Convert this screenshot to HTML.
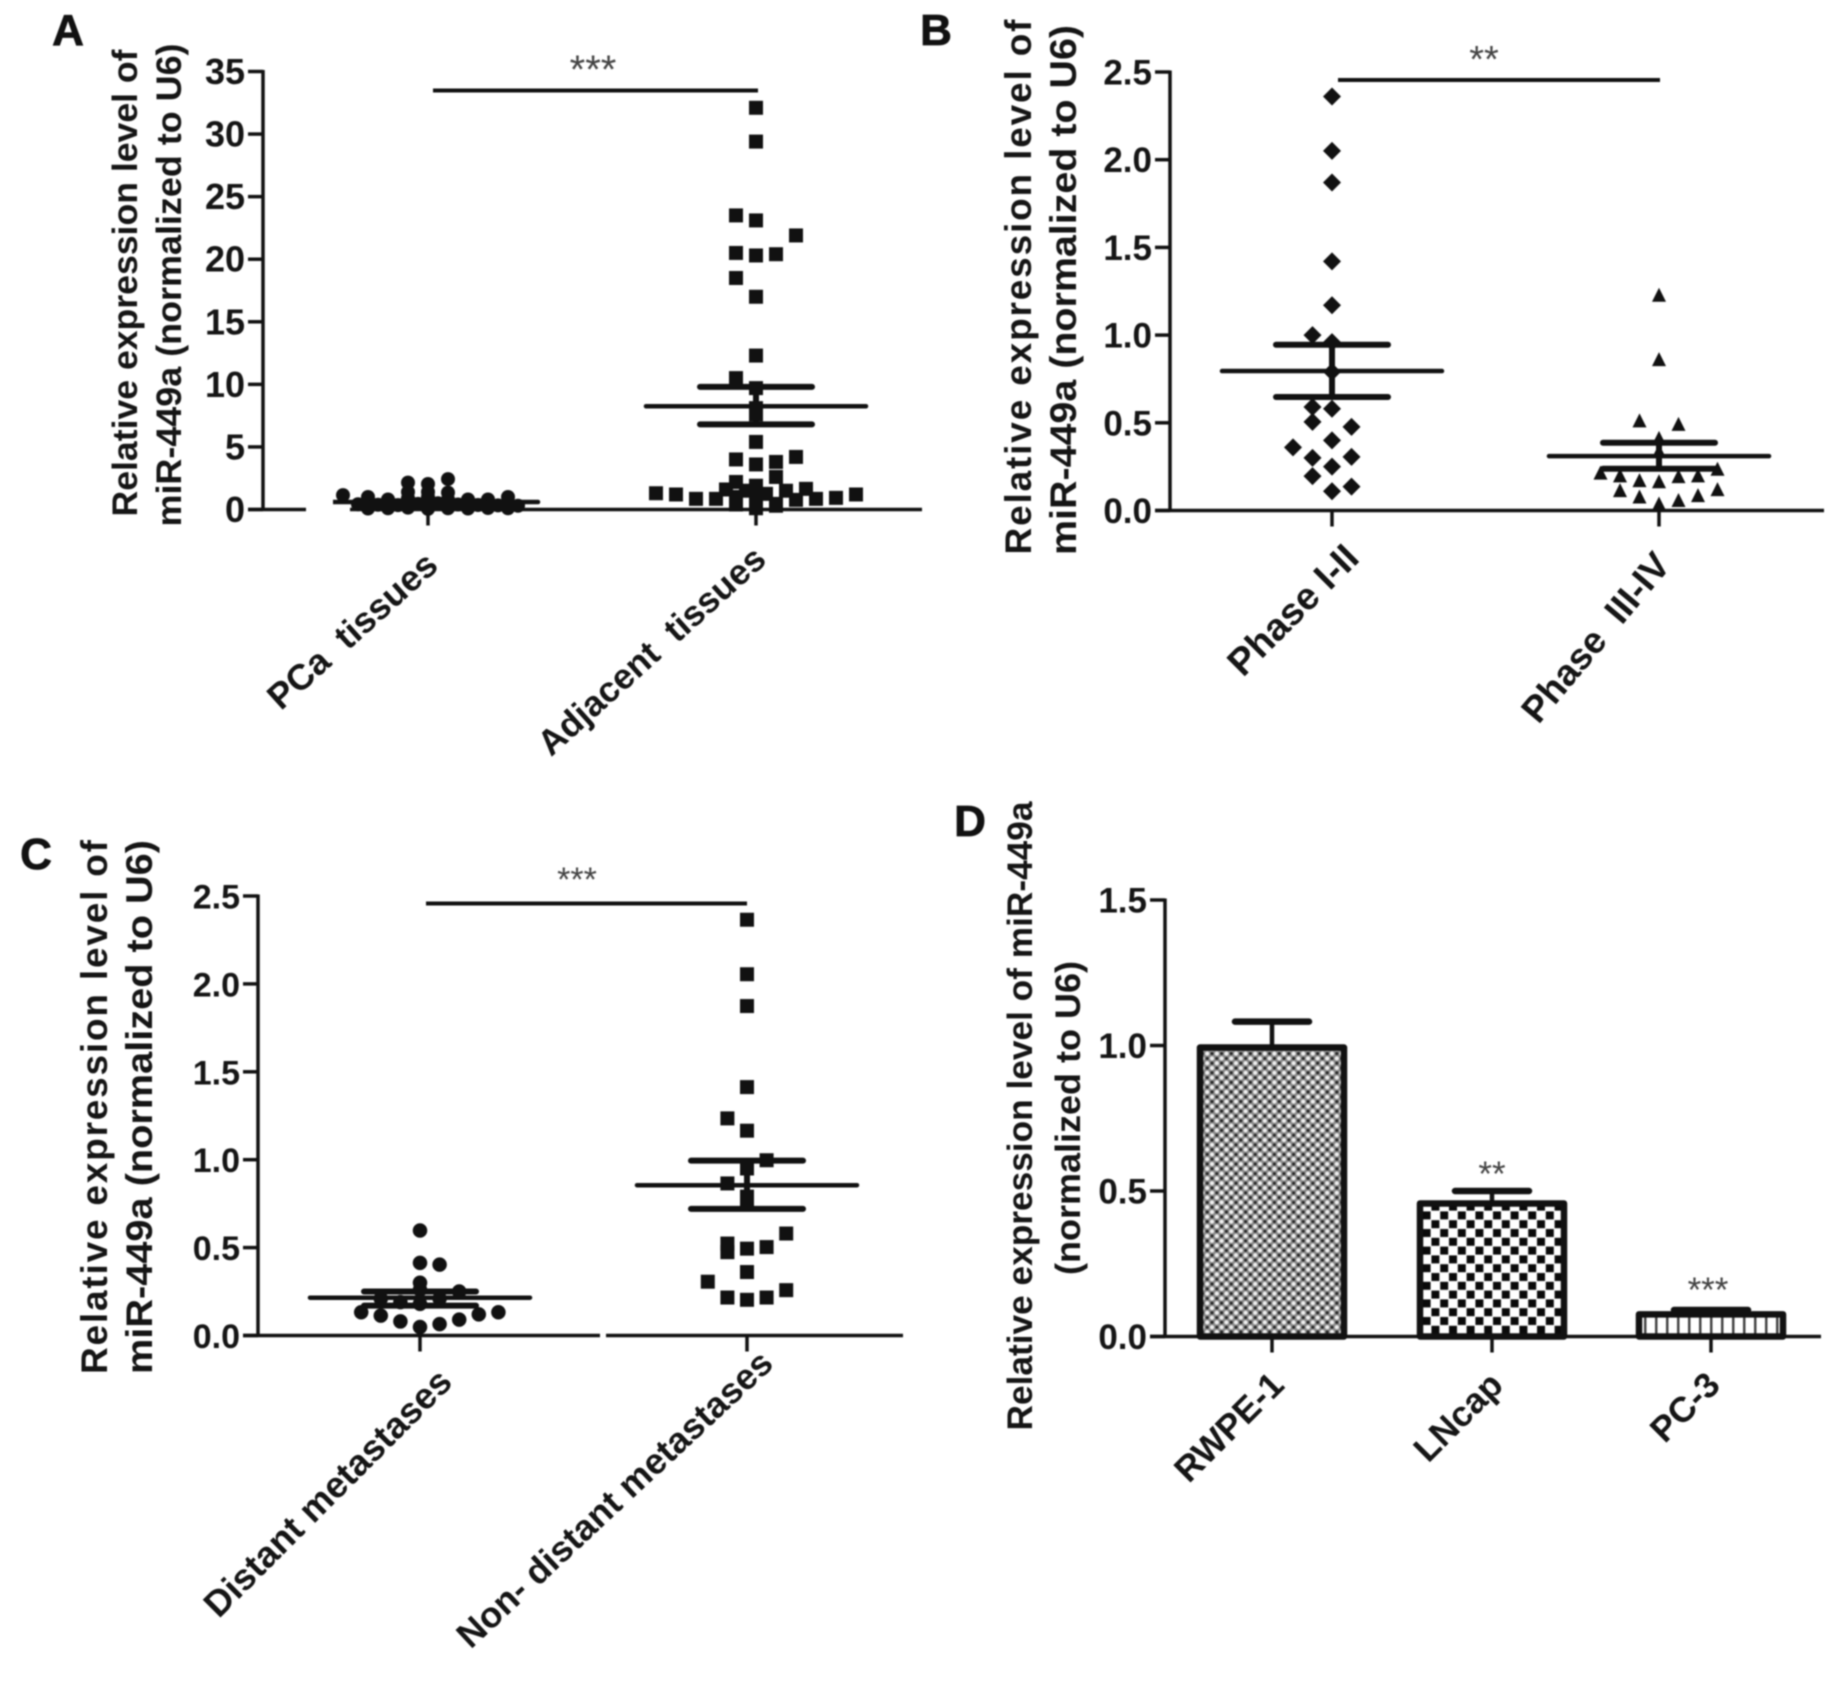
<!DOCTYPE html>
<html lang="en">
<head>
<meta charset="utf-8">
<title>Relative expression level of miR-449a</title>
<style>
html,body{margin:0;padding:0;background:#fff;width:1837px;height:1687px;overflow:hidden}
svg{display:block;filter:blur(0.7px)}
text{font-family:"Liberation Sans",sans-serif;fill:#151515;white-space:pre}
.tt{font-weight:700}
.star{font-weight:400;fill:#444}
.pl{font-weight:700;font-size:44px;fill:#111;text-anchor:middle;stroke:#111;stroke-width:0.8px}
</style>
</head>
<body>
<svg id="fig" xmlns="http://www.w3.org/2000/svg" width="1837" height="1687" viewBox="0 0 1837 1687">
<defs>
<pattern id="pat-fine" patternUnits="userSpaceOnUse" width="9.6" height="9.6">
<rect width="9.6" height="9.6" fill="#8a8a8a"/>
<circle cx="2.4" cy="2.4" r="2.1" fill="#f0f0f0"/><circle cx="7.2" cy="7.2" r="2.1" fill="#f0f0f0"/>
<circle cx="7.2" cy="2.4" r="1.5" fill="#222"/><circle cx="2.4" cy="7.2" r="1.5" fill="#222"/>
</pattern>
<pattern id="pat-check" patternUnits="userSpaceOnUse" width="17.6" height="17.6" x="1431" y="1211">
<rect width="17.6" height="17.6" fill="#fff"/>
<rect x="0.4" y="9.2" width="8" height="8" fill="#0a0a0a"/><rect x="9.2" y="0.4" width="8" height="8" fill="#0a0a0a"/>
</pattern>
<pattern id="pat-stripe" patternUnits="userSpaceOnUse" width="11" height="11" x="1640" y="0">
<rect width="11" height="11" fill="#fff"/><rect x="4" width="2.5" height="11" fill="#444"/>
</pattern>
</defs>

<g id="panel-a">
<text class="pl" x="68" y="45">A</text>
<text class="tt" font-size="35" text-anchor="middle" transform="translate(137,283) rotate(-90)" textLength="467" lengthAdjust="spacingAndGlyphs">Relative expression level of</text>
<text class="tt" font-size="35" text-anchor="middle" transform="translate(181,285) rotate(-90)" textLength="483" lengthAdjust="spacingAndGlyphs">miR-449a (normalized to U6)</text>
<line x1="433" y1="90.5" x2="758" y2="90.5" stroke="#111" stroke-width="4"/>
<text class="star" font-size="40" text-anchor="middle" x="593" y="83">***</text>
</g>

<g id="panel-b">
<text class="pl" x="936" y="45">B</text>
<text class="tt" font-size="37" text-anchor="middle" transform="translate(1031,287) rotate(-90)" textLength="535" lengthAdjust="spacing">Relative expression level of</text>
<text class="tt" font-size="37" text-anchor="middle" transform="translate(1076,290) rotate(-90)" textLength="530" lengthAdjust="spacingAndGlyphs">miR-449a (normalized to U6)</text>
<line x1="1338" y1="80" x2="1660" y2="80" stroke="#111" stroke-width="4"/>
<text class="star" font-size="38" text-anchor="middle" x="1484" y="72">**</text>
</g>

<g id="panel-c">
<text class="pl" x="36" y="869">C</text>
<text class="tt" font-size="37" text-anchor="middle" transform="translate(107,1107) rotate(-90)" textLength="534" lengthAdjust="spacing">Relative expression level of</text>
<text class="tt" font-size="37" text-anchor="middle" transform="translate(152,1107) rotate(-90)" textLength="534" lengthAdjust="spacingAndGlyphs">miR-449a (normalized to U6)</text>
<line x1="426" y1="903.5" x2="747" y2="903.5" stroke="#111" stroke-width="4"/>
<text class="star" font-size="34" text-anchor="middle" x="577" y="891">***</text>
</g>

<g id="panel-d">
<text class="pl" x="970" y="836">D</text>
<text class="tt" font-size="35" text-anchor="middle" transform="translate(1032,1116) rotate(-90)" textLength="629" lengthAdjust="spacingAndGlyphs">Relative expression level of miR-449a</text>
<text class="tt" font-size="35" text-anchor="middle" transform="translate(1080,1118) rotate(-90)" textLength="314" lengthAdjust="spacingAndGlyphs">(normalized to U6)</text>
<text class="star" font-size="35" text-anchor="middle" x="1492" y="1186">**</text>
<text class="star" font-size="35" text-anchor="middle" x="1708" y="1302">***</text>
</g>
</svg>

<script>
/* ---------- Panel A data ---------- */
const aTickLabels = ['0','5','10','15','20','25','30','35'];
const aCategories = ['PCa  tissues','Adjacent  tissues'];
const aPcaValues = [2.43,2.15,2.04,1.4,1.4,1.35,1.15,1.0,0.8,0.8,0.8,1.0,0.42,0.38,0.35,0.45,0.5,0.4,0.36,0.33,0.3,0.08,0.1,0.15,0.05,0.1,0.08,0.12,0.1,0.7,1.0,0.9,0.8];
const aPcaSlots  = [2,-2,0,-2,0,2,-8.5,-6,-4,4,6,8,-7,-5,-3,-1,1,3,5,7,9,-6,-4,-2,0,2,4,6,8,0,0,-2,2];
const aAdjValues = [32.1,29.4,23.5,23.1,21.9,20.5,20.3,20.4,18.5,17.0,12.3,10.5,9.7,8.1,7.6,5.4,4.0,3.6,3.8,4.2,2.6,2.2,1.9,1.6,1.5,1.65,1.25,1.5,1.3,1.2,0.85,0.85,0.85,0.93,1.2,0.77,0.6,0.45,0.2,0.8,1.0,0.4,0.3,0.1];
const aAdjSlots  = [0,0,-2,0,4,-2,0,2,-2,0,0,-2,0,0,0,0,-2,0,2,4,2,-2,0,-3,3,5,1,-1,-10,-8,-6,-4,6,8,10,4,-2,2,0,0,-2,-2,2,0];
const aMeans = [0.6,8.25];
const aSemHigh = [0.65,9.8];
const aSemLow = [0.55,6.8];

/* ---------- Panel B data ---------- */
const bTickLabels = ['0.0','0.5','1.0','1.5','2.0','2.5'];
const bCategories = ['Phase I-II','Phase  III-IV'];
const bEarlyValues = [2.36,2.05,1.87,1.42,1.17,1.0,0.96,0.79,0.59,0.58,0.505,0.477,0.40,0.36,0.30,0.306,0.25,0.196,0.136,0.11];
const bEarlySlots  = [0,0,0,0,0,-1,0,0,-1,0,-1,1,0,-2,-1,1,0,-1,1,0];
const bLateValues = [1.23,0.863,0.514,0.494,0.414,0.34,0.216,0.2,0.173,0.167,0.196,0.2,0.238,0.116,0.08,0.04,0.06,0.088,0.122];
const bLateSlots  = [0,0,-1,1,0,0,-3,-2,-1,0,1,2,3,-2,-1,0,1,2,3];
const bMeans = [0.795,0.31];
const bSemHigh = [0.945,0.386];
const bSemLow = [0.647,0.238];

/* ---------- Panel C data ---------- */
const cTickLabels = ['0.0','0.5','1.0','1.5','2.0','2.5'];
const cCategories = ['Distant metastases','Non- distant metastases'];
const cDistantValues = [0.597,0.413,0.403,0.3,0.25,0.26,0.21,0.19,0.21,0.18,0.132,0.113,0.08,0.048,0.065,0.09,0.12,0.132];
const cDistantSlots  = [0,0,1,0,2,0,-2,-1,1,0,-3,-2,-1,0,1,2,3,4];
const cOtherValues = [2.365,2.055,1.874,1.413,1.235,1.165,0.997,0.95,0.865,0.79,0.76,0.58,0.523,0.474,0.494,0.503,0.361,0.306,0.258,0.216,0.203,0.216];
const cOtherSlots  = [0,0,0,0,-1,0,1,0,-1,0,0,2,-1,-1,0,1,0,-2,2,-1,0,1];
const cMeans = [0.215,0.855];
const cSemHigh = [0.25,0.995];
const cSemLow = [0.17,0.72];

/* ---------- Panel D data ---------- */
const dTickLabels = ['0.0','0.5','1.0','1.5'];
const dCategories = ['RWPE-1','LNcap','PC-3'];
const dBarValues = [1.0,0.464,0.083];
const dErrorHigh = [1.082,0.5,0.091];

const NS = 'http://www.w3.org/2000/svg';
const INK = '#111';

function make(parent, tag, attrs) {
  const el = document.createElementNS(NS, tag);
  for (const k in attrs) el.setAttribute(k, attrs[k]);
  parent.appendChild(el);
  return el;
}

function scaleY(cfg) {
  return v => cfg.y0 - (v / cfg.max) * (cfg.y0 - cfg.yTop);
}

function drawAxes(g, cfg, tickLabels, categories) {
  const y = scaleY(cfg);
  const yAxis = make(g, 'line', {x1: cfg.x0, y1: cfg.yTop - 1.5, x2: cfg.x0, y2: cfg.y0, stroke: INK, 'stroke-width': 3.5});
  
  
  cfg.segments.forEach(seg => {
    const xAxis = make(g, 'line', {x1: seg[0], y1: cfg.y0, x2: seg[1], y2: cfg.y0, stroke: INK, 'stroke-width': 3.5});
    
    
  });
  tickLabels.forEach(lbl => {
    const yy = y(Number(lbl));
    const tick = make(g, 'line', {x1: cfg.x0 - 15, y1: yy, x2: cfg.x0, y2: yy, stroke: INK, 'stroke-width': 3.5});
    
    
    const t = make(g, 'text', {x: cfg.x0 - 18, y: yy + 12.5, 'font-size': cfg.tickFont, 'text-anchor': 'end', 'class': 'tt'});
    t.textContent = lbl;
    
    
  });
  categories.forEach((c, i) => {
    const cx = cfg.catX[i];
    const tick = make(g, 'line', {x1: cx, y1: cfg.y0, x2: cx, y2: cfg.y0 + 16, stroke: INK, 'stroke-width': 3.5});
    
    
    const end = cfg.labelEnd[i];
    const t = make(g, 'text', {'font-size': cfg.labelFont[i], 'text-anchor': 'end', 'class': 'tt',
      transform: 'translate(' + end[0] + ',' + end[1] + ') rotate(' + (-cfg.labelAngle[i]) + ')'});
    t.textContent = c;
    
    
  });
}

function drawMark(g, shape, cx, cy, s) {
  let el;
  if (shape === 'circle') {
    el = make(g, 'circle', {cx: cx, cy: cy, r: s / 2, fill: INK});
  } else if (shape === 'square') {
    el = make(g, 'rect', {x: cx - s / 2, y: cy - s / 2, width: s, height: s, fill: INK});
  } else if (shape === 'diamond') {
    const h = s / 2;
    el = make(g, 'polygon', {points: cx + ',' + (cy - h) + ' ' + (cx + h) + ',' + cy + ' ' + cx + ',' + (cy + h) + ' ' + (cx - h) + ',' + cy, fill: INK});
  } else {
    const h = s / 2;
    el = make(g, 'polygon', {points: cx + ',' + (cy - h) + ' ' + (cx + h) + ',' + (cy + h) + ' ' + (cx - h) + ',' + (cy + h), fill: INK});
  }
  
  
}

function drawScatter(g, cfg, i, values, slots, shape, size) {
  const y = scaleY(cfg);
  values.forEach((v, k) => {
    drawMark(g, shape, cfg.catX[i] + slots[k] * cfg.slotUnit, y(v), size);
  });
}

function drawStats(g, cfg, means, hi, lo) {
  const y = scaleY(cfg);
  means.forEach((m, i) => {
    const cx = cfg.catX[i];
    const mean = make(g, 'line', {x1: cx - 110, y1: y(m), x2: cx + 110, y2: y(m), stroke: INK, 'stroke-width': 4.5, 'stroke-linecap': 'round'});
    
    
    const stem = make(g, 'line', {x1: cx, y1: y(hi[i]), x2: cx, y2: y(lo[i]), stroke: INK, 'stroke-width': 6});
    
    
    const top = make(g, 'line', {x1: cx - 56, y1: y(hi[i]), x2: cx + 56, y2: y(hi[i]), stroke: INK, 'stroke-width': 6, 'stroke-linecap': 'round'});
    
    
    const bot = make(g, 'line', {x1: cx - 56, y1: y(lo[i]), x2: cx + 56, y2: y(lo[i]), stroke: INK, 'stroke-width': 6, 'stroke-linecap': 'round'});
    
    
  });
}

const panelA = document.getElementById('panel-a');
const cfgA = {x0: 263, yTop: 71.5, y0: 509.5, max: 35, tickFont: 36, labelFont: [36, 35.5], slotUnit: 10,
  segments: [[248, 306], [350, 922]], catX: [428, 756],
  labelEnd: [[440, 568], [768, 562]], labelAngle: [42, 42]};
drawAxes(panelA, cfgA, aTickLabels, aCategories);
drawScatter(panelA, cfgA, 0, aPcaValues, aPcaSlots, 'circle', 14);
drawScatter(panelA, cfgA, 1, aAdjValues, aAdjSlots, 'square', 14);
drawStats(panelA, cfgA, aMeans, aSemHigh, aSemLow);
const axisBreak = make(panelA, 'rect', {x: 307, y: 490, width: 26, height: 24, fill: '#fff'});



const panelB = document.getElementById('panel-b');
const cfgB = {x0: 1170, yTop: 72, y0: 510.5, max: 2.5, tickFont: 35, labelFont: [38, 37], slotUnit: 19.5,
  segments: [[1155, 1824]], catX: [1332, 1659],
  labelEnd: [[1361, 560], [1672, 566]], labelAngle: [45, 50]};
drawAxes(panelB, cfgB, bTickLabels, bCategories);
drawScatter(panelB, cfgB, 0, bEarlyValues, bEarlySlots, 'diamond', 18);
drawScatter(panelB, cfgB, 1, bLateValues, bLateSlots, 'triangle', 14);
drawStats(panelB, cfgB, bMeans, bSemHigh, bSemLow);

const panelC = document.getElementById('panel-c');
const cfgC = {x0: 258, yTop: 896, y0: 1335.5, max: 2.5, tickFont: 34, labelFont: [36.5, 36], slotUnit: 19.6,
  segments: [[243, 600], [606, 903]], catX: [420, 747],
  labelEnd: [[454, 1384], [775, 1366]], labelAngle: [45, 43]};
drawAxes(panelC, cfgC, cTickLabels, cCategories);
drawScatter(panelC, cfgC, 0, cDistantValues, cDistantSlots, 'circle', 14.5);
drawScatter(panelC, cfgC, 1, cOtherValues, cOtherSlots, 'square', 14);
drawStats(panelC, cfgC, cMeans, cSemHigh, cSemLow);

const panelD = document.getElementById('panel-d');
const cfgD = {x0: 1165, yTop: 900, y0: 1336.5, max: 1.5, tickFont: 35, labelFont: [35.5, 35.5, 35.5],
  segments: [[1150, 1821]], catX: [1272, 1492, 1711],
  labelEnd: [[1286, 1387], [1505, 1387], [1722, 1387]], labelAngle: [45, 45, 45]};
const barFills = ['url(#pat-fine)', 'url(#pat-check)', 'url(#pat-stripe)'];
drawAxes(panelD, cfgD, dTickLabels, dCategories);
const yD = scaleY(cfgD);
dBarValues.forEach((v, i) => {
  const cx = cfgD.catX[i];
  const stem = make(panelD, 'line', {x1: cx, y1: yD(dErrorHigh[i]), x2: cx, y2: yD(v), stroke: INK, 'stroke-width': 4.5});
  
  
  const cap = make(panelD, 'line', {x1: cx - 37, y1: yD(dErrorHigh[i]), x2: cx + 37, y2: yD(dErrorHigh[i]), stroke: INK, 'stroke-width': 6.5, 'stroke-linecap': 'round'});
  
  
  const bar = make(panelD, 'rect', {x: cx - 72, y: yD(v) + 2, width: 144, height: cfgD.y0 - yD(v) - 2, fill: barFills[i], stroke: INK, 'stroke-width': 6.5, 'stroke-linejoin': 'round'});
  
  
});
</script>
</body>
</html>
